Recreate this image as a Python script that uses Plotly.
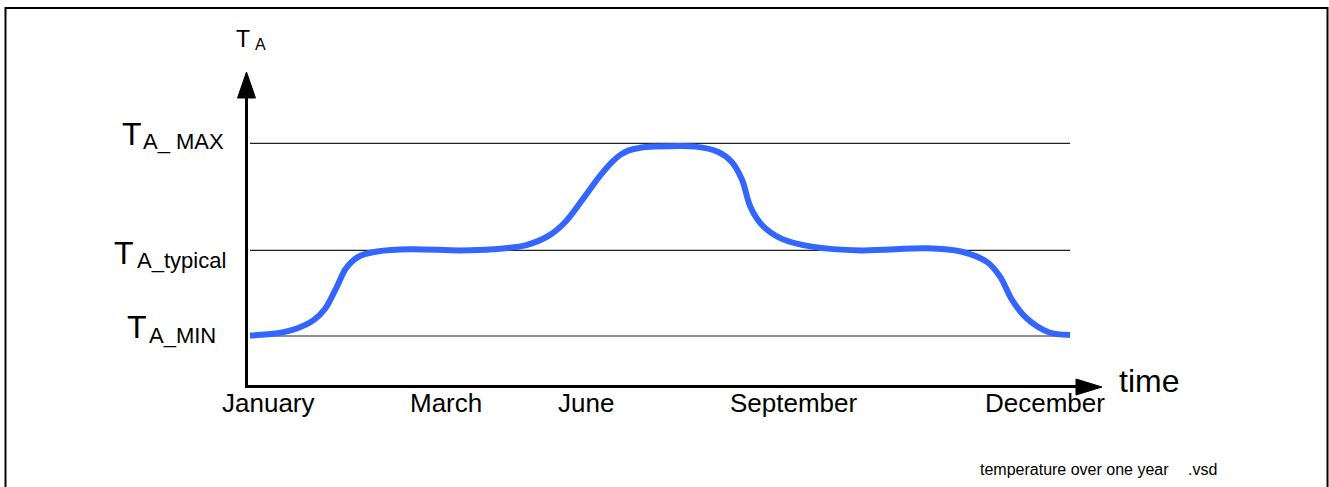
import plotly.graph_objects as go

# ---- data (arbitrary units) ----
time_pts = [0, 3.3, 5.7, 7.8, 9.2, 10.4, 11.6, 12.3, 13.0, 14.0, 15.5, 19.5, 25.6, 29.6, 33.7, 36.5,
            38.5, 40.5, 42.6, 44.2, 45.2, 46.2, 47.6, 49.4, 54.3, 57.1, 58.7, 60.0, 61.0, 62.4, 64.8,
            68.5, 74.5, 82.6, 86.7, 89.9, 91.5, 92.9, 94.7, 97.4, 100]
temp_pts = [10.05, 10.25, 10.7, 11.5, 12.6, 14.3, 16.2, 16.85, 17.3, 17.65, 17.9, 18.1, 18.0, 18.1, 18.5, 19.4,
            20.7, 22.7, 24.9, 26.3, 26.95, 27.35, 27.6, 27.7, 27.7, 27.2, 26.3, 24.6, 22.1, 20.4, 19.1,
            18.35, 18.0, 18.2, 17.9, 16.9, 15.5, 13.4, 11.65, 10.35, 10.1]

level_names = ["A_ MAX", "A_typical", "A_MIN"]
level_values = [28, 18, 10]
level_end = 100

month_labels = ["January", "March", "June", "September", "December"]
month_pos = [2.2, 23.9, 41.0, 66.3, 97.0]

# ---- layout geometry (pixels) ----
W, H = 1329, 487
PL, PR, PT, PB = 248, 1085, 85, 385   # plot area edges


def xp(px):
    return (px - PL) / (PR - PL)


def yp(py):
    return (PB - py) / (PB - PT)


X_RANGE = [-2 / 8.24, (PR - 246) / 8.24]
Y_RANGE = [10 - (PB - 336) / 10.7, 10 + (336 - PT) / 10.7]

FONT = "Liberation Sans, Arial, sans-serif"

fig = go.Figure()

fig.add_trace(go.Scatter(
    x=time_pts, y=temp_pts, mode="lines",
    line=dict(color="#3366ff", width=6, shape="spline", smoothing=0.9),
    hoverinfo="skip", showlegend=False,
))

shapes = []
# level lines
for v in level_values:
    shapes.append(dict(type="line", xref="x", yref="y", x0=0, x1=level_end, y0=v, y1=v,
                       line=dict(color="#222222", width=1.2), layer="below"))
# arrow heads
shapes.append(dict(type="path", xref="paper", yref="paper",
                   path=f"M {xp(246.5)},{yp(72)} L {xp(237.5)},{yp(98)} L {xp(255.5)},{yp(98)} Z",
                   fillcolor="black", line=dict(color="black", width=1)))
shapes.append(dict(type="path", xref="paper", yref="paper",
                   path=f"M {xp(1102)},{yp(387)} L {xp(1076)},{yp(379)} L {xp(1076)},{yp(395)} Z",
                   fillcolor="black", line=dict(color="black", width=1)))
# frame (open at bottom)
shapes.append(dict(type="path", xref="paper", yref="paper",
                   path=f"M {xp(5.5)},{yp(495)} L {xp(5.5)},{yp(8)} L {xp(1327.5)},{yp(8)} L {xp(1327.5)},{yp(495)}",
                   line=dict(color="black", width=2)))

ann = []


def add_text(text, px, py_center, size, anchor="left"):
    ann.append(dict(text=text, xref="paper", yref="paper", x=xp(px), y=yp(py_center),
                    xanchor=anchor, yanchor="middle", showarrow=False,
                    font=dict(family=FONT, size=size, color="black")))


# axis title T_A
add_text("T", 234, 38.7, 23)
add_text("A", 253, 44.5, 16)

# level labels
T_right = [144, 136, 149]
sub_left = [141, 134.5, 147]
T_center = [133.9, 253.2, 327.2]
sub_center = [141.7, 260.7, 335.1]
for name, tr, sl, tc, sc in zip(level_names, T_right, sub_left, T_center, sub_center):
    add_text("T", tr, tc, 32, anchor="right")
    add_text(name, sl, sc, 22)

# month labels along the time axis
for lab, pos in zip(month_labels, month_pos):
    ann.append(dict(text=lab, xref="x", yref="paper", x=pos, y=yp(403),
                    xanchor="center", yanchor="middle", showarrow=False,
                    font=dict(family=FONT, size=26, color="black")))

add_text("time", 1117, 380.6, 32)
add_text("temperature over one year", 978, 469.5, 16)
add_text(".vsd", 1186, 469.5, 16)

fig.update_layout(
    width=W, height=H,
    margin=dict(l=PL, r=W - PR, t=PT, b=H - PB, pad=0),
    paper_bgcolor="white", plot_bgcolor="white",
    shapes=shapes, annotations=ann,
    xaxis=dict(range=X_RANGE, showgrid=False, zeroline=False, showline=True,
               linecolor="black", linewidth=3, ticks="", showticklabels=False),
    yaxis=dict(range=Y_RANGE, showgrid=False, zeroline=False, showline=True,
               linecolor="black", linewidth=3, showticklabels=False, ticks=""),
    showlegend=False,
)

fig.write_html("out.html", config={"displayModeBar": False},
               post_script="document.body.style.margin='0px';document.body.style.overflow='hidden';")
